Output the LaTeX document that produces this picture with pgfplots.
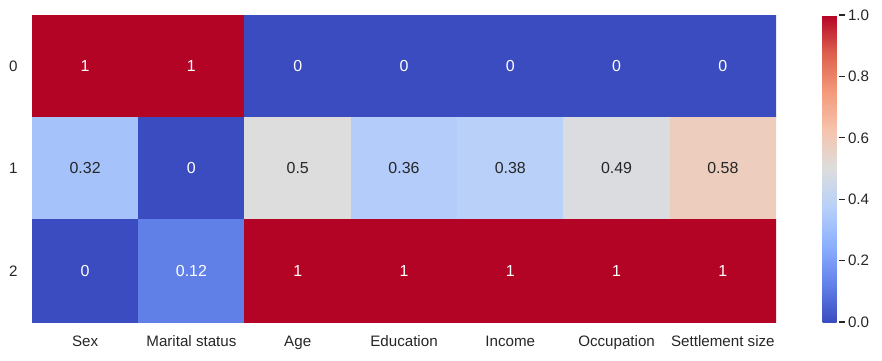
\documentclass[border=0pt]{standalone}
\usepackage{fontspec}
\setmainfont{Liberation Sans}
\usepackage{pgfplots}
\pgfplotsset{compat=1.18}
\definecolor{txt}{RGB}{38,38,38}
\pgfplotsset{colormap={coolwarm}{rgb255(0)=(59,76,192) rgb255(1)=(98,130,234) rgb255(2)=(141,176,254) rgb255(3)=(184,208,249) rgb255(4)=(221,221,221) rgb255(5)=(245,196,173) rgb255(6)=(244,154,123) rgb255(7)=(222,96,77) rgb255(8)=(180,4,38)}}
\newcommand{\fs}{\fontsize{15.2}{18}\selectfont}
\newcommand{\fa}{\fontsize{16}{19}\selectfont}
\begin{document}
\begin{tikzpicture}
\begin{axis}[
  name=ax,
  scale only axis,
  width=744bp, height=307bp,
  xmin=-0.5, xmax=6.5, ymin=-0.5, ymax=2.5,
  y dir=reverse,
  enlargelimits=false,
  axis line style={draw=none},
  major tick length=0pt,
  xtick={0,...,6},
  xticklabels={Sex,Marital status,Age,Education,Income,Occupation,Settlement size},
  ytick={0,1,2},
  yticklabels={0,1,2},
  ticklabel style={font=\fs, text=txt},
  xticklabel style={yshift=-10bp, text height=11bp, text depth=3bp},
  yticklabel style={xshift=-11bp},
  colormap name=coolwarm,
  point meta min=0, point meta max=1,
  colorbar,
  colorbar style={
    at={(parent axis.north east)}, anchor=north west, xshift=38bp,
    width=16bp,
    axis line style={draw=none},
    ytick={0,0.2,0.4,0.6,0.8,1},
    yticklabel pos=right,
    ytick pos=right,
    tick align=outside,
    major tick length=6bp,
    major tick style={color=txt, line width=1.4pt},
    yticklabel style={font=\fs, text=txt, xshift=0bp,
      /pgf/number format/fixed, /pgf/number format/fixed zerofill, /pgf/number format/precision=1, /pgf/number format/assume math mode=true},
  },
]
\addplot[matrix plot*, mesh/cols=7, point meta=explicit] table[meta=c] {
x y c
0 0 1
1 0 1
2 0 0
3 0 0
4 0 0
5 0 0
6 0 0
0 1 0.32
1 1 0
2 1 0.5
3 1 0.36
4 1 0.38
5 1 0.49
6 1 0.58
0 2 0
1 2 0.12
2 2 1
3 2 1
4 2 1
5 2 1
6 2 1
};
\addplot[draw=none, nodes near coords, point meta=explicit symbolic,
  nodes near coords style={anchor=center, text=white, font=\fa}] table[meta=l] {
x y l
0 0 1
1 0 1
2 0 0
3 0 0
4 0 0
5 0 0
6 0 0
1 1 0
0 2 0
1 2 0.12
2 2 1
3 2 1
4 2 1
5 2 1
6 2 1
};
\addplot[draw=none, nodes near coords, point meta=explicit symbolic,
  nodes near coords style={anchor=center, text=txt, font=\fa}] table[meta=l] {
x y l
0 1 0.32
2 1 0.5
3 1 0.36
4 1 0.38
5 1 0.49
6 1 0.58
};
\end{axis}
\path[use as bounding box] ([xshift=-32bp,yshift=-38bp]ax.south west) rectangle ([xshift=106bp,yshift=15bp]ax.north east);
\end{tikzpicture}
\end{document}
